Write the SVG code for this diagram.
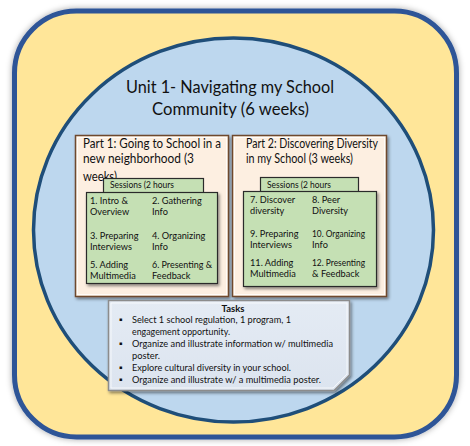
<svg xmlns="http://www.w3.org/2000/svg" width="470" height="446" viewBox="0 0 470 446">
<defs>
<filter id="sh" x="-10%" y="-10%" width="120%" height="120%">
<feDropShadow dx="1.5" dy="2" stdDeviation="1.5" flood-color="#000" flood-opacity="0.45"/>
</filter>
<filter id="glow" x="-5%" y="-5%" width="110%" height="110%">
<feDropShadow dx="0" dy="0" stdDeviation="3" flood-color="#000" flood-opacity="0.35"/>
</filter>
<linearGradient id="tg" x1="0" y1="0" x2="0" y2="1">
<stop offset="0" stop-color="#E4EBF4"/>
<stop offset="1" stop-color="#DCE4EF"/>
</linearGradient>
</defs>
<style>
text{font-family:Lato,"Liberation Sans",sans-serif;fill:#111}
.title{font-size:16.5px}
.part{font-size:12.5px}
.ses{font-size:9px}
.item{font-size:9.2px}
.task{font-size:9.5px}
.part-box{fill:#FDEFE1;stroke:#6E4A2E;stroke-width:1.5}
.ses-box{fill:#C5E0B4;stroke:#2B2B2B;stroke-width:1.2}
</style>
<g id="frame">
<rect x="14.5" y="11" width="442" height="426" rx="62" ry="62" fill="#FFE699" stroke="#2F5597" stroke-width="5" filter="url(#glow)"/>
</g>
<g id="unit">
<ellipse cx="233.5" cy="230" rx="200" ry="192" fill="#BDD7EE" stroke="#1F4E79" stroke-width="3.5"/>
<text class="title" x="126" y="93" textLength="208" lengthAdjust="spacingAndGlyphs">Unit 1- Navigating my School</text>
<text class="title" x="152" y="115" textLength="157" lengthAdjust="spacingAndGlyphs">Community (6 weeks)</text>
</g>
<g id="part1">
<rect class="part-box" x="75.5" y="135.5" width="153" height="161" filter="url(#sh)"/>
<rect x="77.5" y="137.5" width="149" height="157" fill="none" stroke="#FFFFFF" stroke-width="1" opacity="0.8"/>
<text class="part" x="83" y="148" textLength="138" lengthAdjust="spacingAndGlyphs">Part 1: Going to School in a</text>
<text class="part" x="83" y="163" textLength="111" lengthAdjust="spacingAndGlyphs">new neighborhood (3</text>
<text class="part" x="83" y="180.5" textLength="34" lengthAdjust="spacingAndGlyphs">weeks)</text>
</g>
<g id="part2">
<rect class="part-box" x="232.5" y="135.5" width="154" height="161" filter="url(#sh)"/>
<rect x="234.5" y="137.5" width="150" height="157" fill="none" stroke="#FFFFFF" stroke-width="1" opacity="0.8"/>
<text class="part" x="246" y="148" textLength="132" lengthAdjust="spacingAndGlyphs">Part 2: Discovering Diversity</text>
<text class="part" x="246" y="163" textLength="107" lengthAdjust="spacingAndGlyphs">in my School (3 weeks)</text>
</g>
<g id="sessions1">
<rect class="ses-box" x="103.5" y="178.5" width="100" height="16"/>
<text class="ses" x="110" y="188" textLength="64" lengthAdjust="spacingAndGlyphs">Sessions (2 hours</text>
<rect class="ses-box" x="86.5" y="192.5" width="131" height="91" filter="url(#sh)"/>
<text class="item" x="90" y="204">1. Intro &amp;</text>
<text class="item" x="90" y="215">Overview</text>
<text class="item" x="152" y="204">2. Gathering</text>
<text class="item" x="152" y="215">Info</text>
<text class="item" x="90" y="239">3. Preparing</text>
<text class="item" x="90" y="250">Interviews</text>
<text class="item" x="152" y="239">4. Organizing</text>
<text class="item" x="152" y="250">Info</text>
<text class="item" x="90" y="268">5. Adding</text>
<text class="item" x="90" y="279">Multimedia</text>
<text class="item" x="152" y="268" textLength="60" lengthAdjust="spacingAndGlyphs">6. Presenting &amp;</text>
<text class="item" x="152" y="279">Feedback</text>
</g>
<g id="sessions2">
<rect class="ses-box" x="260.5" y="177.5" width="98" height="16"/>
<text class="ses" x="267" y="188" textLength="64" lengthAdjust="spacingAndGlyphs">Sessions (2 hours</text>
<rect class="ses-box" x="243.5" y="191.5" width="133" height="95" filter="url(#sh)"/>
<text class="item" x="250" y="203">7. Discover</text>
<text class="item" x="250" y="214">diversity</text>
<text class="item" x="312" y="203">8. Peer</text>
<text class="item" x="312" y="214">Diversity</text>
<text class="item" x="250" y="237">9. Preparing</text>
<text class="item" x="250" y="248">Interviews</text>
<text class="item" x="312" y="237" textLength="53" lengthAdjust="spacingAndGlyphs">10. Organizing</text>
<text class="item" x="312" y="248">Info</text>
<text class="item" x="250" y="266">11. Adding</text>
<text class="item" x="250" y="277">Multimedia</text>
<text class="item" x="312" y="266" textLength="53" lengthAdjust="spacingAndGlyphs">12. Presenting</text>
<text class="item" x="312" y="277">&amp; Feedback</text>
</g>
<g id="tasks">
<path d="M108.5,300.5 H349.5 V375 L334,390.5 H108.5 Z" fill="url(#tg)" stroke="#8C8C8C" stroke-width="1.5" filter="url(#sh)"/>
<path d="M111,303 H347 V374 L333,388 H111 Z" fill="none" stroke="#FFFFFF" stroke-width="1" opacity="0.7"/>
<text class="task" x="233" y="312" text-anchor="middle" font-weight="bold">Tasks</text>
<text class="task" x="119" y="323">▪</text>
<text class="task" x="132" y="323" textLength="159" lengthAdjust="spacingAndGlyphs">Select 1 school regulation, 1 program, 1</text>
<text class="task" x="132" y="335" textLength="98" lengthAdjust="spacingAndGlyphs">engagement opportunity.</text>
<text class="task" x="119" y="347">▪</text>
<text class="task" x="132" y="347" textLength="201" lengthAdjust="spacingAndGlyphs">Organize and illustrate information w/ multimedia</text>
<text class="task" x="132" y="359" textLength="28" lengthAdjust="spacingAndGlyphs">poster.</text>
<text class="task" x="119" y="371">▪</text>
<text class="task" x="132" y="371" textLength="159" lengthAdjust="spacingAndGlyphs">Explore cultural diversity in your school.</text>
<text class="task" x="119" y="383">▪</text>
<text class="task" x="132" y="383" textLength="189" lengthAdjust="spacingAndGlyphs">Organize and illustrate w/ a multimedia poster.</text>
</g>
</svg>
